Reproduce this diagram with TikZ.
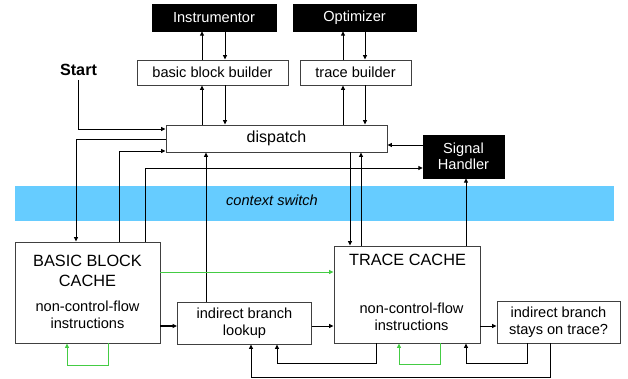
\documentclass[tikz,border=0pt]{standalone}
\usepackage{fontspec}
\setmainfont{Liberation Sans}
\usetikzlibrary{arrows.meta}
\definecolor{bandblue}{HTML}{66CCFF}
\definecolor{loopgreen}{HTML}{44CC44}
\definecolor{boxline}{HTML}{404040}
\tikzset{
  box/.style={draw=boxline, line width=0.9pt, fill=white, rectangle, inner sep=0pt, font=\fontsize{14.6}{17.5}\selectfont, align=center},
  blackbox/.style={fill=black, draw=black, rectangle, inner sep=0pt, text=white, font=\fontsize{14.6}{16.5}\selectfont, align=center},
  txt/.style={inner sep=0pt, align=center, font=\fontsize{14.6}{17.5}\selectfont},
  ttl/.style={inner sep=0pt, align=center, font=\fontsize{16.3}{19.5}\selectfont},
  arr/.style={-{Triangle[length=4.5pt,width=4pt]}, line width=0.9pt, black},
  garr/.style={-{Triangle[length=4.5pt,width=4pt]}, line width=0.9pt, loopgreen},
}
\begin{document}
\begin{tikzpicture}[x=1pt,y=-1pt]
\useasboundingbox (0,0) rectangle (628,379);
% context switch band
\node[fill=bandblue, inner sep=0pt, minimum width=599pt, minimum height=35pt] (band) at (314.5,203.5) {};
\node[txt, font=\fontsize{14.6}{17.5}\selectfont\itshape] (ctx) at (272,200) {context switch};
% top boxes
\node[blackbox, minimum width=124pt, minimum height=27pt] (instr) at (214,17.5) {Instrumentor};
\node[blackbox, minimum width=123pt, minimum height=27pt] (optim) at (354.5,17.5) {Optimizer};
\node[box, minimum width=151pt, minimum height=25pt] (bbb) at (212.5,72.5) {basic block builder};
\node[box, minimum width=111pt, minimum height=25pt] (tb) at (355.5,72.5) {trace builder};
\node[box, minimum width=221pt, minimum height=27pt, font=\fontsize{16}{19}\selectfont] (dispatch) at (276.5,138.5) {dispatch};
\node[blackbox, minimum width=81pt, minimum height=43pt] (sh) at (463.5,156.5) {Signal\\Handler};
\node[txt, font=\fontsize{16.2}{19}\selectfont\bfseries] (start) at (78.5,70) {Start};
% bottom boxes
\node[box, minimum width=145pt, minimum height=101pt] (bbc) at (87.5,292.5) {};
\node[ttl] (bbct) at (87.5,271) {BASIC BLOCK\\CACHE};
\node[txt] (bbcb) at (87.5,315) {non-control-flow\\instructions};
\node[box, minimum width=134pt, minimum height=42pt] (ibl) at (244.5,323) {indirect branch\\lookup};
\node[box, minimum width=146pt, minimum height=97pt] (tc) at (407,294.5) {};
\node[ttl] (tct) at (407.5,259.5) {TRACE CACHE};
\node[txt] (tcb) at (411.5,317) {non-control-flow\\instructions};
\node[box, minimum width=123pt, minimum height=42pt] (ibst) at (558.5,322) {indirect branch\\stays on trace?};
% top connectors
\draw[arr] (bbb.north -| 202,0) -- (instr.south -| 202,0);
\draw[arr] (instr.south -| 225,0) -- (bbb.north -| 225,0);
\draw[arr] (tb.north -| 343,0) -- (optim.south -| 343,0);
\draw[arr] (optim.south -| 365,0) -- (tb.north -| 365,0);
\draw[arr] (dispatch.north -| 202,0) -- (bbb.south -| 202,0);
\draw[arr] (bbb.south -| 225,0) -- (dispatch.north -| 225,0);
\draw[arr] (dispatch.north -| 343,0) -- (tb.south -| 343,0);
\draw[arr] (tb.south -| 365,0) -- (dispatch.north -| 365,0);
% start and dispatch links
\draw[arr] ([yshift=-4pt]start.south) |- (dispatch.west |- 0,129);
\draw[arr] (dispatch.west |- 0,139) -| (bbc.north -| 76,0);
\draw[arr] (bbc.north -| 119,0) |- (dispatch.west |- 0,151);
\draw[arr] (bbc.north -| 145,0) |- (sh.west |- 0,168);
\draw[arr] (ibl.north -| 206,0) -- (dispatch.south -| 206,0);
\draw[arr] (sh.west |- 0,145) -- (dispatch.east |- 0,145);
\draw[arr] (dispatch.south -| 350,0) -- (tc.north -| 350,0);
\draw[arr] (tc.north -| 361,0) -- (dispatch.south -| 361,0);
\draw[arr] (tc.north -| 466,0) -- (sh.south -| 466,0);
% horizontal links
\draw[garr] (bbc.east |- 0,272) -- (tc.west |- 0,272);
\draw[arr, line width=1.8pt] (bbc.east |- 0,326) -- (ibl.west |- 0,326);
\draw[arr] (ibl.east |- 0,326) -- (tc.west |- 0,326);
\draw[arr] (tc.east |- 0,326) -- (ibst.west |- 0,326);
% loops
\draw[garr] (bbc.south -| 108,0) -- ++(0,22) -| (bbc.south -| 67,0);
\draw[garr] (tc.south -| 440,0) -- ++(0,21) -| (tc.south -| 399,0);
\draw[arr] (tc.south -| 376,0) -- ++(0,20) -| (ibl.south -| 277,0);
\draw[arr] (ibst.south -| 527,0) -- ++(0,20) -| (tc.south -| 466,0);
\draw[arr] (ibst.south -| 550,0) -- ++(0,34) -| (ibl.south -| 251,0);
\end{tikzpicture}
\end{document}
